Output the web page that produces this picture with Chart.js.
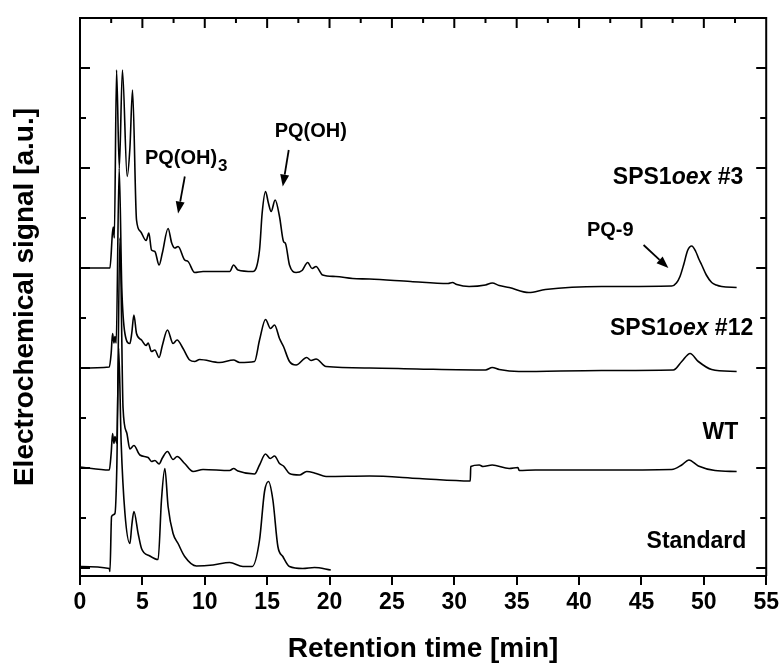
<!DOCTYPE html>
<html>
<head>
<meta charset="utf-8">
<title>HPLC chromatograms</title>
<script src="https://cdn.jsdelivr.net/npm/chart.js@4.4.1/dist/chart.umd.min.js"></script>
<style>
  html, body { margin: 0; padding: 0; background: #fff; }
  #wrap { width: 783px; height: 664px; }
</style>
</head>
<body>
<div id="wrap"><canvas id="chrom" width="783" height="664"></canvas></div>
<script>
// retention time [min] and signal (already offset, one tick = 1 unit)
var sps3Time = [0, 0.01, 2.4, 2.6, 2.67, 2.75, 2.93, 3.15, 3.4, 3.78, 4.0, 4.21, 4.53, 4.85, 5.3, 5.52, 5.73, 6.0, 6.34, 6.6, 7.06, 7.35, 7.6, 7.86, 8.39, 8.66, 9.19, 9.86, 12.0, 12.31, 12.66, 13.86, 14.39, 14.6, 14.87, 15.1, 15.32, 15.64, 15.99, 16.31, 16.47, 16.79, 17.32, 17.8, 18.25, 18.6, 18.92, 19.45, 20.5, 21.85, 23.2, 26.5, 29.5, 29.85, 30.2, 31.18, 32.5, 33.04, 33.6, 34.4, 35.97, 37.3, 41.8, 47.43, 47.8, 48.09, 48.4, 48.7, 49.03, 49.35, 49.6, 49.83, 50.2, 50.63, 51.0, 51.43, 52.63];
var sps3Signal = [5.4, 6.0, 6.0, 6.7, 6.82, 6.6, 9.96, 8.0, 9.96, 7.83, 8.4, 9.56, 6.96, 6.73, 6.55, 6.70, 6.36, 6.33, 6.06, 6.3, 6.79, 6.5, 6.4, 6.43, 6.16, 6.13, 5.91, 5.93, 5.93, 6.06, 5.96, 5.93, 6.36, 7.1, 7.53, 7.3, 7.13, 7.36, 7.03, 6.53, 6.49, 6.06, 5.91, 5.95, 6.11, 5.99, 6.03, 5.86, 5.83, 5.79, 5.78, 5.73, 5.69, 5.71, 5.67, 5.63, 5.66, 5.70, 5.65, 5.61, 5.51, 5.57, 5.63, 5.64, 5.70, 5.83, 6.08, 6.35, 6.44, 6.33, 6.18, 6.06, 5.86, 5.71, 5.66, 5.63, 5.61];

var sps12Time = [0, 2.35, 2.5, 2.61, 2.72, 2.8, 2.9, 3.14, 3.35, 3.6, 4.0, 4.15, 4.32, 4.53, 4.93, 5.3, 5.46, 5.73, 6.0, 6.34, 6.6, 7.01, 7.46, 7.78, 8.26, 8.79, 9.19, 9.59, 11.19, 12.31, 12.79, 13.99, 14.39, 14.87, 15.27, 15.59, 15.99, 16.31, 16.79, 17.32, 18.17, 18.52, 18.92, 19.72, 23.2, 27.0, 32.5, 33.04, 33.6, 35.17, 41.8, 47.56, 48.23, 48.9, 49.56, 50.63, 52.63];
var sps12Signal = [4.0, 4.02, 4.3, 4.69, 4.5, 4.63, 4.5, 8.0, 5.6, 4.69, 4.49, 4.7, 5.06, 4.69, 4.56, 4.45, 4.5, 4.33, 4.36, 4.21, 4.45, 4.76, 4.49, 4.56, 4.39, 4.16, 4.13, 4.17, 4.11, 4.16, 4.11, 4.13, 4.56, 4.97, 4.79, 4.86, 4.59, 4.43, 4.13, 4.06, 4.21, 4.15, 4.18, 4.03, 4.0, 3.98, 3.96, 4.01, 3.97, 3.93, 3.95, 3.96, 4.13, 4.29, 4.13, 3.97, 3.93];

var wtTime = [0, 2.35, 2.5, 2.61, 2.72, 2.8, 2.95, 3.2, 3.45, 3.75, 4.0, 4.32, 4.8, 5.46, 5.73, 6.0, 6.34, 6.6, 7.01, 7.46, 7.78, 8.39, 9.06, 9.86, 11.99, 12.31, 12.66, 13.99, 14.39, 14.87, 15.25, 15.59, 15.99, 16.31, 16.79, 17.59, 18.17, 18.92, 19.72, 23.2, 27.2, 31.28, 31.32, 32.0, 32.3, 33.04, 34.4, 35.1, 35.2, 36.5, 41.8, 47.43, 48.23, 48.8, 49.56, 50.9, 52.63];
var wtSignal = [2.02, 1.96, 2.3, 2.69, 2.49, 2.63, 2.5, 6.6, 3.2, 2.7, 2.38, 2.45, 2.26, 2.21, 2.13, 2.15, 2.08, 2.2, 2.33, 2.17, 2.23, 2.09, 1.93, 1.97, 1.95, 1.99, 1.94, 1.88, 2.06, 2.28, 2.19, 2.24, 2.09, 2.04, 1.89, 1.86, 1.93, 1.89, 1.83, 1.84, 1.79, 1.74, 2.03, 2.06, 2.03, 2.06, 1.99, 2.01, 1.95, 1.96, 1.96, 1.97, 2.06, 2.16, 2.04, 1.95, 1.93];

var stdTime = [0, 2.35, 2.4, 2.53, 2.8, 2.95, 3.1, 3.3, 3.6, 4.0, 4.15, 4.32, 4.66, 4.93, 5.6, 6.26, 6.53, 6.8, 7.06, 7.46, 7.86, 8.39, 9.33, 10.66, 11.99, 13.06, 13.8, 14.39, 14.79, 15.11, 15.46, 15.86, 16.26, 16.79, 17.86, 18.79, 20.1];
var stdSignal = [0.03, -0.01, -0.07, 1.03, 1.09, 2.0, 4.4, 2.5, 1.1, 0.49, 0.85, 1.13, 0.69, 0.39, 0.24, 0.17, 1.36, 1.99, 1.23, 0.69, 0.49, 0.23, 0.04, 0.06, 0.11, 0.03, 0.03, 0.56, 1.53, 1.73, 1.36, 0.43, 0.23, 0.03, -0.01, 0.01, -0.04];

var xTicks = [0, 5, 10, 15, 20, 25, 30, 35, 40, 45, 50, 55];

function pairs(t, s) {
  return t.map(function (v, i) { return {x: v, y: s[i]}; });
}

var bold = '"Liberation Sans", Arial, sans-serif';

// text labels and arrows, placed in data coordinates
var traceLabels = [
  {parts: [['SPS1', ''], ['oex', 'italic '], [' #3', '']], x: 53.16, y: 7.8},
  {parts: [['SPS1', ''], ['oex', 'italic '], [' #12', '']], x: 53.96, y: 4.78},
  {parts: [['WT', '']], x: 52.76, y: 2.7},
  {parts: [['Standard', '']], x: 53.4, y: 0.52}
];
var arrows = [
  {from: [8.4, 7.83], to: [7.86, 7.09]},
  {from: [16.73, 8.36], to: [16.25, 7.63]},
  {from: [45.17, 6.46], to: [47.16, 6.0]}
];

var annotate = {
  id: 'annotate',
  afterDraw: function (chart) {
    var ctx = chart.ctx, a = chart.chartArea;
    var x = chart.scales.x, y = chart.scales.y;
    ctx.save();
    ctx.strokeStyle = '#000';
    ctx.fillStyle = '#000';
    ctx.lineWidth = 2;

    // top and right frame with inward ticks
    ctx.beginPath();
    ctx.moveTo(a.left, a.top);
    ctx.lineTo(a.right, a.top);
    ctx.lineTo(a.right, a.bottom);
    for (var v = 0; v <= 55; v += 2.5) {
      var px = x.getPixelForValue(v);
      ctx.moveTo(px, a.top);
      ctx.lineTo(px, a.top + (v % 5 === 0 ? 10 : 5));
    }
    for (var k = 0; k <= 10; k++) {
      var py = Math.round(y.getPixelForValue(k));
      var len = k % 2 === 0 ? 10 : 6;
      ctx.moveTo(a.left, py);
      ctx.lineTo(a.left + len, py);
      ctx.moveTo(a.right, py);
      ctx.lineTo(a.right - len, py);
    }
    ctx.stroke();

    // trace names, right aligned
    ctx.textBaseline = 'middle';
    traceLabels.forEach(function (lab) {
      var total = 0;
      lab.parts.forEach(function (p) {
        ctx.font = p[1] + 'bold 23px ' + bold;
        total += ctx.measureText(p[0]).width;
      });
      var cx = x.getPixelForValue(lab.x) - total;
      var cy = y.getPixelForValue(lab.y);
      lab.parts.forEach(function (p) {
        ctx.font = p[1] + 'bold 23px ' + bold;
        ctx.fillText(p[0], cx, cy);
        cx += ctx.measureText(p[0]).width;
      });
    });

    // peak names
    ctx.font = 'bold 20px ' + bold;
    ctx.textAlign = 'left';
    var lx = x.getPixelForValue(5.2), ly = y.getPixelForValue(8.2);
    ctx.fillText('PQ(OH)', lx, ly);
    var w = ctx.measureText('PQ(OH)').width;
    ctx.font = 'bold 17px ' + bold;
    ctx.fillText('3', lx + w + 1, ly + 8);
    ctx.font = 'bold 20px ' + bold;
    ctx.textAlign = 'center';
    ctx.fillText('PQ(OH)', x.getPixelForValue(18.5), y.getPixelForValue(8.74));
    ctx.fillText('PQ-9', x.getPixelForValue(42.5), y.getPixelForValue(6.76));

    // arrows
    arrows.forEach(function (ar) {
      var x0 = x.getPixelForValue(ar.from[0]), y0 = y.getPixelForValue(ar.from[1]);
      var x1 = x.getPixelForValue(ar.to[0]), y1 = y.getPixelForValue(ar.to[1]);
      var ang = Math.atan2(y1 - y0, x1 - x0);
      var hl = 12, hw = 4.5;
      var bx = x1 - hl * Math.cos(ang), by = y1 - hl * Math.sin(ang);
      ctx.lineWidth = 1.8;
      ctx.beginPath();
      ctx.moveTo(x0, y0);
      ctx.lineTo(bx, by);
      ctx.stroke();
      ctx.beginPath();
      ctx.moveTo(x1, y1);
      ctx.lineTo(bx + hw * Math.sin(ang), by - hw * Math.cos(ang));
      ctx.lineTo(bx - hw * Math.sin(ang), by + hw * Math.cos(ang));
      ctx.closePath();
      ctx.fill();
    });
    ctx.restore();
  }
};

function trace(label, t, s) {
  return {
    label: label,
    data: pairs(t, s),
    borderColor: '#000',
    borderWidth: 1.6,
    pointRadius: 0,
    fill: false,
    cubicInterpolationMode: 'monotone'
  };
}

var ctx = document.getElementById('chrom').getContext('2d');
var chart = new Chart(ctx, {
  type: 'line',
  data: {
    datasets: [
      trace('SPS1oex #3', sps3Time, sps3Signal),
      trace('SPS1oex #12', sps12Time, sps12Signal),
      trace('WT', wtTime, wtSignal),
      trace('Standard', stdTime, stdSignal)
    ]
  },
  options: {
    responsive: false,
    animation: false,
    devicePixelRatio: 1,
    layout: {padding: {top: 18, right: 15, left: 0, bottom: 0}},
    plugins: {legend: {display: false}, tooltip: {enabled: false}},
    scales: {
      x: {
        type: 'linear',
        min: 0,
        max: 55,
        afterBuildTicks: function (scale) {
          scale.ticks = xTicks.map(function (v) { return {value: v}; });
        },
        afterFit: function (scale) { scale.height = 88; },
        ticks: {
          color: '#000',
          padding: 4,
          maxRotation: 0,
          font: {family: bold, size: 23, weight: 'bold'}
        },
        grid: {
          display: true,
          drawOnChartArea: false,
          drawTicks: true,
          tickLength: 9,
          color: '#000',
          lineWidth: 2
        },
        border: {display: true, color: '#000', width: 2},
        title: {
          display: true,
          text: 'Retention time [min]',
          color: '#000',
          padding: {top: 0, bottom: 1},
          font: {family: bold, size: 28, weight: 'bold', lineHeight: 1}
        }
      },
      y: {
        type: 'linear',
        min: -0.16,
        max: 11,
        afterFit: function (scale) { scale.width = 80; },
        ticks: {display: false},
        grid: {display: false},
        border: {display: true, color: '#000', width: 2},
        title: {
          display: true,
          text: 'Electrochemical signal [a.u.]',
          color: '#000',
          padding: {top: 8, bottom: 0},
          font: {family: bold, size: 28, weight: 'bold', lineHeight: 1.2}
        }
      }
    }
  },
  plugins: [annotate]
});
</script>
</body>
</html>
